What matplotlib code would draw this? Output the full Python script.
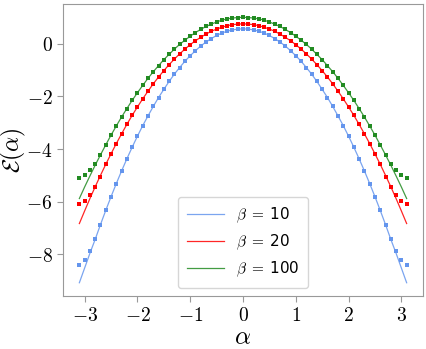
import numpy as np
import matplotlib
matplotlib.use('Agg')
import matplotlib.pyplot as plt
from matplotlib.ticker import FuncFormatter

plt.rcParams['mathtext.fontset'] = 'cm'

# alpha grid, step 0.1 from -3.1 to 3.1
alpha = np.arange(-31, 32) / 10

# solid curves
line_b10 = [-9.08, -8.52, -7.96, -7.43, -6.87, -6.33, -5.81, -5.31, -4.83, -4.37, -3.93, -3.51, -3.11,
            -2.74, -2.38, -2.04, -1.73, -1.43, -1.15, -0.90, -0.66, -0.45, -0.26, -0.08, 0.07, 0.20,
            0.32, 0.41, 0.48, 0.53, 0.56, 0.57, 0.56, 0.53, 0.48, 0.41, 0.32, 0.20, 0.07, -0.08, -0.26,
            -0.45, -0.66, -0.90, -1.15, -1.43, -1.73, -2.04, -2.38, -2.74, -3.11, -3.51, -3.93, -4.37,
            -4.83, -5.31, -5.81, -6.33, -6.87, -7.43, -7.96, -8.52, -9.08]
line_b20 = [-6.83, -6.35, -5.88, -5.43, -5.00, -4.58, -4.18, -3.79, -3.42, -3.06, -2.72, -2.40, -2.09,
            -1.80, -1.52, -1.26, -1.02, -0.79, -0.58, -0.38, -0.20, -0.03, 0.12, 0.25, 0.37, 0.48,
            0.56, 0.63, 0.69, 0.73, 0.75, 0.76, 0.75, 0.73, 0.69, 0.63, 0.56, 0.48, 0.37, 0.25, 0.12,
            -0.03, -0.20, -0.38, -0.58, -0.79, -1.02, -1.26, -1.52, -1.80, -2.09, -2.40, -2.72, -3.06,
            -3.42, -3.79, -4.18, -4.58, -5.00, -5.43, -5.88, -6.35, -6.83]
line_b100 = [-5.88, -5.44, -5.02, -4.61, -4.22, -3.84, -3.47, -3.12, -2.78, -2.46, -2.15, -1.86, -1.58,
             -1.31, -1.06, -0.83, -0.60, -0.40, -0.20, -0.02, 0.14, 0.29, 0.43, 0.55, 0.66, 0.75,
             0.83, 0.90, 0.95, 0.98, 1.00, 1.01, 1.00, 0.98, 0.95, 0.90, 0.83, 0.75, 0.66, 0.55, 0.43,
             0.29, 0.14, -0.02, -0.20, -0.40, -0.60, -0.83, -1.06, -1.31, -1.58, -1.86, -2.15, -2.46,
             -2.78, -3.12, -3.47, -3.84, -4.22, -4.61, -5.02, -5.44, -5.88]

# square markers
pts_b10 = [-8.41, -8.22, -7.88, -7.43, -6.87, -6.33, -5.81, -5.31, -4.83, -4.37, -3.93, -3.51, -3.11,
           -2.74, -2.38, -2.04, -1.73, -1.43, -1.15, -0.90, -0.66, -0.45, -0.26, -0.08, 0.07, 0.20,
           0.32, 0.41, 0.48, 0.53, 0.56, 0.57, 0.56, 0.53, 0.48, 0.41, 0.32, 0.20, 0.07, -0.08, -0.26,
           -0.45, -0.66, -0.90, -1.15, -1.43, -1.73, -2.04, -2.38, -2.74, -3.11, -3.51, -3.93, -4.37,
           -4.83, -5.31, -5.81, -6.33, -6.87, -7.43, -7.88, -8.22, -8.41]
pts_b20 = [-6.08, -5.97, -5.73, -5.43, -5.05, -4.58, -4.18, -3.79, -3.42, -3.06, -2.72, -2.40, -2.09,
           -1.80, -1.52, -1.26, -1.02, -0.79, -0.58, -0.38, -0.20, -0.03, 0.12, 0.25, 0.37, 0.48,
           0.56, 0.63, 0.69, 0.73, 0.75, 0.76, 0.75, 0.73, 0.69, 0.63, 0.56, 0.48, 0.37, 0.25, 0.12,
           -0.03, -0.20, -0.38, -0.58, -0.79, -1.02, -1.26, -1.52, -1.80, -2.09, -2.40, -2.72, -3.06,
           -3.42, -3.79, -4.18, -4.58, -5.05, -5.43, -5.73, -5.97, -6.08]
pts_b100 = [-5.11, -5.00, -4.81, -4.57, -4.22, -3.84, -3.47, -3.12, -2.78, -2.46, -2.15, -1.86, -1.58,
            -1.31, -1.06, -0.83, -0.60, -0.40, -0.20, -0.02, 0.14, 0.29, 0.43, 0.55, 0.66, 0.75,
            0.83, 0.90, 0.95, 0.98, 1.00, 1.01, 1.00, 0.98, 0.95, 0.90, 0.83, 0.75, 0.66, 0.55, 0.43,
            0.29, 0.14, -0.02, -0.20, -0.40, -0.60, -0.83, -1.06, -1.31, -1.58, -1.86, -2.15, -2.46,
            -2.78, -3.12, -3.47, -3.84, -4.22, -4.57, -4.81, -5.00, -5.11]

labels = [r'$\beta\;=\;$10', r'$\beta\;=\;$20', r'$\beta\;=\;$100']
colors = ['cornflowerblue', 'red', 'forestgreen']

fig = plt.figure(figsize=(4.27, 3.49), dpi=100)
ax = fig.add_axes([63/427, 1 - 296/349, 360/427, 292/349])

for ln, pt, lab, c in zip([line_b10, line_b20, line_b100], [pts_b10, pts_b20, pts_b100], labels, colors):
    ax.plot(alpha, ln, color=c, lw=0.9, alpha=0.85, label=lab)
    ax.plot(alpha, pt, 's', color=c, ms=3.2, mew=0)

ax.set_xticks([-3, -2, -1, 0, 1, 2, 3])
ax.set_yticks([-8, -6, -4, -2, 0])
fmt = FuncFormatter(lambda v, p: r'$%d$' % v)
ax.xaxis.set_major_formatter(fmt)
ax.yaxis.set_major_formatter(fmt)
ax.tick_params(labelsize=14, color='#999999', length=4)
for s in ax.spines.values():
    s.set_color('#999999')

ax.set_xlabel(r'$\alpha$', fontsize=18, labelpad=0)
ax.set_ylabel(r'$\mathcal{E}(\alpha)$', fontsize=17, labelpad=-1)

ax.legend(loc='lower center', fontsize=11, handlelength=2.4, borderpad=0.6)

fig.savefig('out.png', dpi=100)
